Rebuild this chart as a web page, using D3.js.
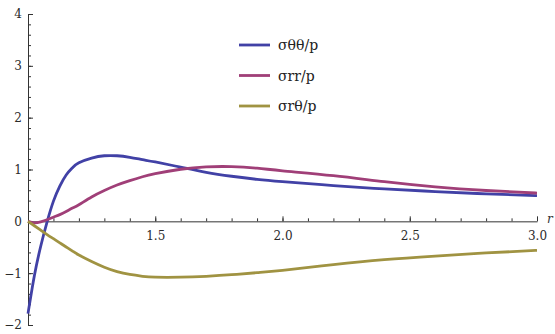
<!DOCTYPE html>
<html>
<head>
<meta charset="utf-8">
<script src="https://cdn.jsdelivr.net/npm/d3@7"></script>
<style>
  html, body { margin: 0; padding: 0; background: #fff; }
  svg { display: block; }
  .tick text { font-family: "DejaVu Serif", serif; font-size: 12px; fill: #2a2a2a; }
</style>
</head>
<body>
<svg id="chart" width="555" height="334"></svg>
<script>
// Radial positions r (hole radius = 1)
const rValues = [1.0, 1.025, 1.05, 1.075, 1.1, 1.125, 1.15, 1.175, 1.2, 1.25, 1.3, 1.35, 1.4, 1.45,
                 1.5, 1.6, 1.7, 1.8, 1.9, 2.0, 2.2, 2.4, 2.6, 2.8, 3.0];

// Normalised stress components along r
const sigmaThetaTheta = [-1.78, -1.05, -0.48, -0.01, 0.39, 0.68, 0.895, 1.035, 1.13, 1.22, 1.265, 1.265, 1.235, 1.19,
                         1.145, 1.045, 0.945, 0.87, 0.81, 0.765, 0.69, 0.625, 0.575, 0.53, 0.495];
const sigmaRR         = [0, -0.03, -0.01, 0.03, 0.08, 0.13, 0.19, 0.255, 0.32, 0.47, 0.595, 0.70, 0.785, 0.86,
                         0.92, 1.005, 1.05, 1.055, 1.025, 0.975, 0.88, 0.765, 0.665, 0.595, 0.545];
const sigmaRTheta     = [0, -0.085, -0.17, -0.255, -0.335, -0.415, -0.495, -0.575, -0.65, -0.775, -0.885, -0.97, -1.025, -1.06,
                         -1.078, -1.078, -1.06, -1.03, -0.99, -0.945, -0.835, -0.74, -0.67, -0.61, -0.56];

const seriesNames  = ["σθθ/p", "σrr/p", "σrθ/p"];
const seriesColors = ["#4141a6", "#a03f78", "#a09342"];

const xMajorTicks = [1.5, 2.0, 2.5, 3.0];
const xMinorTicks = d3.range(11, 30).map(d => d / 10);
const yMajorTicks = [-2, -1, 0, 1, 2, 3, 4];
const yMinorTicks = d3.range(-10, 21).map(d => d / 5);

const serif = "DejaVu Serif, serif";

const svg = d3.select("#chart");

const x = d3.scaleLinear().domain([1, 3]).range([28, 537]);
const y = d3.scaleLinear().domain([-2, 4]).range([325, 14]);

// Minor ticks (no labels)
svg.append("g")
  .attr("transform", `translate(0,${y(0)})`)
  .call(d3.axisBottom(x).tickValues(xMinorTicks).tickSizeInner(-3).tickSizeOuter(0).tickFormat(""))
  .call(g => g.select(".domain").remove())
  .call(g => g.selectAll("line").attr("stroke", "#333"));

svg.append("g")
  .attr("transform", `translate(${x(1)},0)`)
  .call(d3.axisLeft(y).tickValues(yMinorTicks).tickSizeInner(-3).tickSizeOuter(0).tickFormat(""))
  .call(g => g.select(".domain").remove())
  .call(g => g.selectAll("line").attr("stroke", "#333"));

// Major axes
svg.append("g")
  .attr("transform", `translate(0,${y(0)})`)
  .call(d3.axisBottom(x).tickValues(xMajorTicks).tickSizeInner(-5).tickSizeOuter(0)
        .tickPadding(10).tickFormat(d3.format(".1f")))
  .call(g => g.select(".domain").attr("stroke", "#333"))
  .call(g => g.selectAll("line").attr("stroke", "#333"));

svg.append("g")
  .attr("transform", `translate(${x(1)},0)`)
  .call(d3.axisLeft(y).tickValues(yMajorTicks).tickSizeInner(-5).tickSizeOuter(0)
        .tickPadding(6).tickFormat(d3.format("d")))
  .call(g => g.select(".domain").attr("stroke", "#333"))
  .call(g => g.selectAll("line").attr("stroke", "#333"));

// Axis name
svg.append("text")
  .attr("x", x(3) + 10)
  .attr("y", y(0) + 2)
  .style("font-family", serif)
  .attr("font-style", "italic")
  .attr("font-size", 12)
  .attr("fill", "#333")
  .text("r");

// Curves
const seriesValues = [sigmaThetaTheta, sigmaRR, sigmaRTheta];
const line = d3.line()
  .x(d => x(d[0]))
  .y(d => y(d[1]))
  .curve(d3.curveNatural);

seriesValues.forEach((vals, i) => {
  svg.append("path")
    .datum(rValues.map((r, j) => [r, vals[j]]))
    .attr("fill", "none")
    .attr("stroke", seriesColors[i])
    .attr("stroke-width", 2.8)
    .attr("stroke-linejoin", "round")
    .attr("d", line);
});

// Legend
const legend = svg.append("g").attr("transform", "translate(239,45)");
seriesNames.forEach((name, i) => {
  const row = legend.append("g").attr("transform", `translate(0,${i * 30.5})`);
  row.append("line")
    .attr("x1", 0).attr("x2", 31)
    .attr("y1", 0).attr("y2", 0)
    .attr("stroke", seriesColors[i])
    .attr("stroke-width", 2.8);
  row.append("text")
    .attr("x", 39)
    .attr("y", 5)
    .style("font-family", serif)
    .attr("font-size", 14)
    .attr("fill", "#222")
    .text(name);
});
</script>
</body>
</html>
